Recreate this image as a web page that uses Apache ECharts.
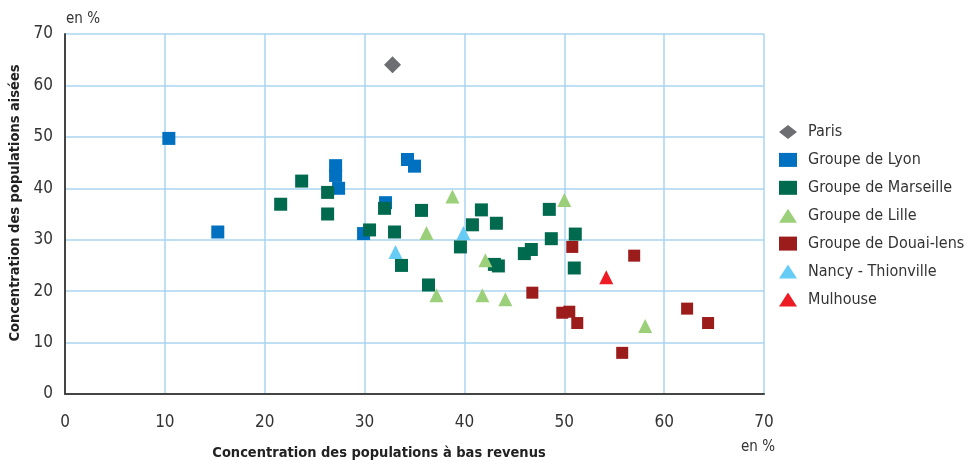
<!DOCTYPE html>
<html><head><meta charset="utf-8">
<script src="https://cdn.jsdelivr.net/npm/echarts@6/dist/echarts.min.js"></script>
<style>html,body{margin:0;padding:0;background:#fff}#c{width:970px;height:461px}</style>
</head><body><div id="c"></div>
<script>
const seriesNames = ["Paris","Groupe de Lyon","Groupe de Marseille","Groupe de Lille","Groupe de Douai-lens","Nancy - Thionville","Mulhouse"];
const paris = [[32.8,64.0]];
const lyon = [[10.4,49.7],[15.3,31.5],[27.1,44.4],[27.1,42.5],[27.4,40.0],[34.3,45.6],[35.0,44.3],[32.1,37.2],[29.9,31.2]];
const marseille = [[23.7,41.4],[21.6,36.9],[26.3,39.2],[26.3,35.0],[32.0,36.1],[30.5,31.9],[33.0,31.5],[35.7,35.7],[33.7,25.0],[36.4,21.2],[39.6,28.6],[40.8,32.9],[41.7,35.8],[43.2,33.2],[43.0,25.2],[43.4,24.9],[46.0,27.3],[46.7,28.1],[48.5,35.9],[48.7,30.2],[51.1,31.1],[51.0,24.5]];
const lille = [[38.8,38.4],[36.2,31.3],[42.1,26.0],[37.2,19.2],[41.8,19.2],[44.1,18.4],[50.0,37.7],[58.1,13.2]];
const douai = [[50.8,28.6],[57.0,26.9],[46.8,19.7],[49.8,15.8],[50.5,16.0],[51.3,13.8],[55.8,8.0],[62.3,16.6],[64.4,13.8]];
const nancy = [[39.9,31.3],[33.1,27.6]];
const mulhouse = [[54.2,22.7]];
const xTicks = [0,10,20,30,40,50,60,70];
const yTicks = [0,10,20,30,40,50,60,70];
const xTitle = 'Concentration des populations à bas revenus';
const yTitle = 'Concentration des populations aisées';
const unitLabel = 'en %';

const FONT = '"Liberation Sans Narrow","DejaVu Sans Condensed","Roboto",sans-serif';
const chart = echarts.init(document.getElementById('c'));
const mk = (name, data, symbol, size, color) => ({
  name, type: 'scatter', data, symbol, symbolSize: size,
  itemStyle: {color, opacity: 1}, emphasis: {disabled: true}
});
chart.setOption({
  animation: false,
  textStyle: {fontFamily: FONT},
  grid: {left: 65, right: 206, top: 34, bottom: 67, containLabel: false},
  xAxis: {
    type: 'value', min: xTicks[0], max: xTicks[xTicks.length-1], interval: 10,
    axisLine: {show: true, onZero: false, lineStyle: {color: '#444', width: 2}},
    axisTick: {show: false},
    splitLine: {show: true, lineStyle: {color: '#a8d4f0', width: 1.5}},
    axisLabel: {color: '#333', fontSize: 17, fontFamily: FONT, margin: 20}
  },
  yAxis: {
    type: 'value', min: yTicks[0], max: yTicks[yTicks.length-1], interval: 10,
    axisLine: {show: true, onZero: false, lineStyle: {color: '#444', width: 2}},
    axisTick: {show: false},
    splitLine: {show: true, lineStyle: {color: '#a8d4f0', width: 1.5}},
    axisLabel: {color: '#333', fontSize: 17, fontFamily: FONT, margin: 12}
  },
  legend: {
    orient: 'vertical', left: 774, top: 119, itemWidth: 18, itemHeight: 14, itemGap: 11.9,
    textStyle: {color: '#333', fontSize: 16, fontFamily: FONT, padding: [0,0,0,6]},
    data: seriesNames
  },
  graphic: [
    {type: 'text', left: 66, top: 12, style: {text: unitLabel, fontSize: 15, fontFamily: FONT, fill: '#333'}},
    {type: 'text', left: 741, top: 440, style: {text: unitLabel, fontSize: 15, fontFamily: FONT, fill: '#333'}},
    {type: 'text', x: 379, y: 453, style: {text: xTitle, fontSize: 14.5, fontWeight: 'bold', fontFamily: FONT, fill: '#222', align: 'center', verticalAlign: 'middle'}},
    {type: 'text', x: 15, y: 203, rotation: Math.PI/2, style: {text: yTitle, fontSize: 14.5, fontWeight: 'bold', fontFamily: FONT, fill: '#222', align: 'center', verticalAlign: 'middle'}}
  ],
  series: [
    mk(seriesNames[0], paris, 'diamond', 17, '#6d6e71'),
    mk(seriesNames[1], lyon, 'rect', 13, '#0070c0'),
    mk(seriesNames[2], marseille, 'rect', 13, '#006a4e'),
    mk(seriesNames[3], lille, 'triangle', 14, '#9ccf7a'),
    mk(seriesNames[4], douai, 'rect', 12, '#9c1c1c'),
    mk(seriesNames[5], nancy, 'triangle', 14, '#66ccf5'),
    mk(seriesNames[6], mulhouse, 'triangle', 14, '#ed1c24')
  ]
});
</script></body></html>
